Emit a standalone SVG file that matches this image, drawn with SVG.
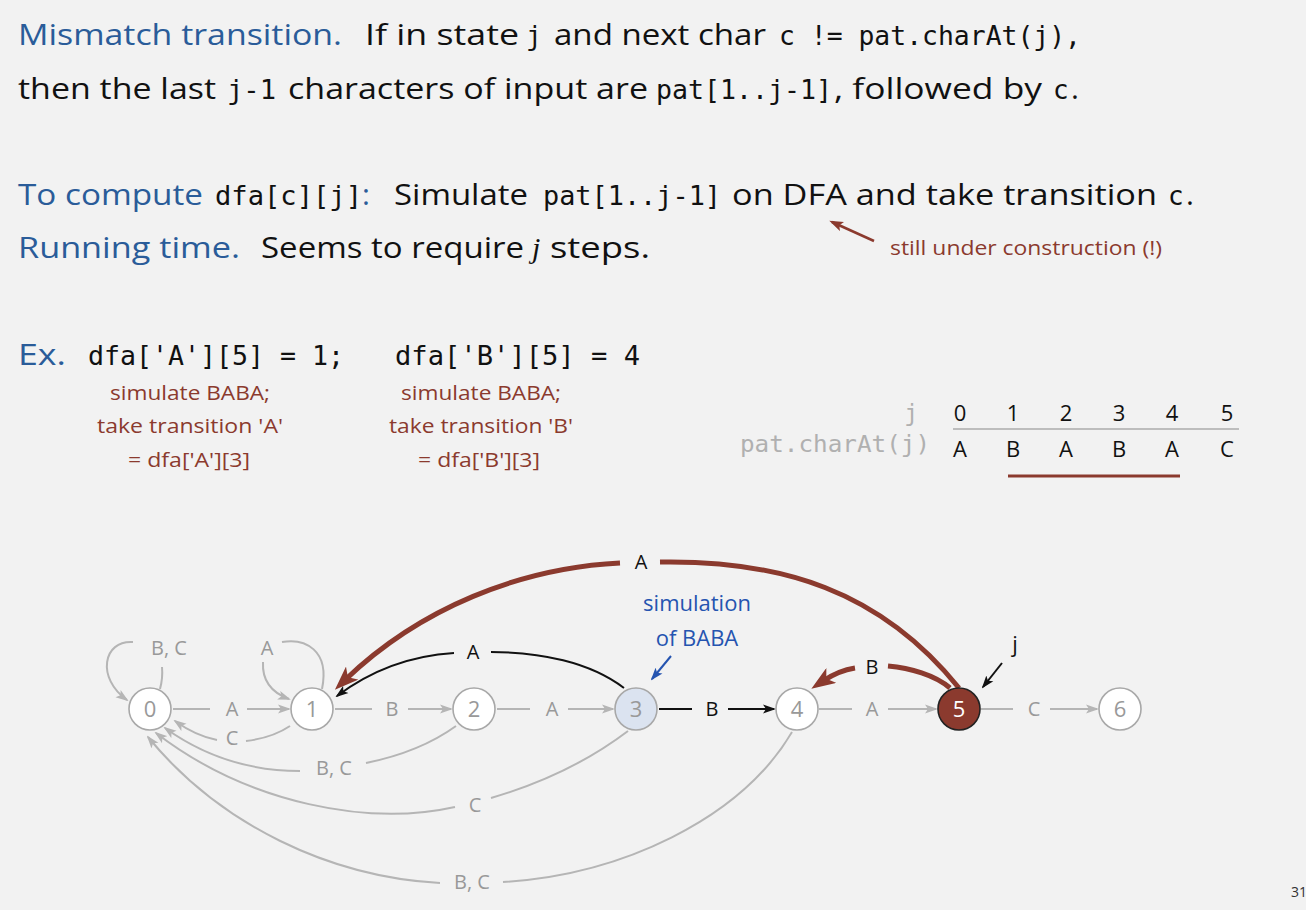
<svg xmlns="http://www.w3.org/2000/svg" width="1306" height="910" viewBox="0 0 1306 910">
<style>
.s{font-family:"Open Sans","Noto Sans","Liberation Sans",sans-serif}
.m{font-family:"DejaVu Sans Mono","Liberation Mono",monospace}
.big{font-size:30px;fill:#111}
.blue{fill:#2a5c99}
.mono27{font-size:26px;fill:#111}
.ann{font-size:20px;fill:#8b3a2e}
.tbl{font-size:22px;fill:#111}
.gl{font-size:20px;fill:#999}
.bl{font-size:20px;fill:#111}
.nl{font-size:22px;fill:#999}
.ge{fill:none;stroke:#b5b5b5;stroke-width:2}
.ke{fill:none;stroke:#111;stroke-width:2}
.be{fill:none;stroke:#8b3a2e;stroke-width:5}
.node{fill:#fff;stroke:#a8a8a8;stroke-width:1.6}
</style>
<defs>
<marker id="ag" markerUnits="userSpaceOnUse" markerWidth="13" markerHeight="10" refX="11" refY="5" orient="auto"><path d="M0,0.5 L13,5 L0,9.5 L3,5 z" fill="#b5b5b5"/></marker>
<marker id="ak" markerUnits="userSpaceOnUse" markerWidth="13" markerHeight="10" refX="11" refY="5" orient="auto"><path d="M0,0.5 L13,5 L0,9.5 L3,5 z" fill="#111"/></marker>
<marker id="ab" markerUnits="userSpaceOnUse" markerWidth="13" markerHeight="10" refX="11" refY="5" orient="auto"><path d="M0,0.5 L13,5 L0,9.5 L3,5 z" fill="#2554b0"/></marker>
<marker id="ar" markerUnits="userSpaceOnUse" markerWidth="14" markerHeight="11" refX="11" refY="5.5" orient="auto"><path d="M0,0.5 L14,5.5 L0,10.5 L3,5.5 z" fill="#8b3a2e"/></marker>
<marker id="aR" markerUnits="userSpaceOnUse" markerWidth="24" markerHeight="18" refX="10" refY="9" orient="auto"><path d="M0,0 L24,9 L0,18 L6,9 z" fill="#8b3a2e"/></marker>
</defs>
<rect width="1306" height="910" fill="#f2f2f2"/>

<g id="text-top">
<text class="s big blue" x="18" y="45" textLength="324" lengthAdjust="spacingAndGlyphs">Mismatch transition.</text>
<text class="s big" x="365" y="45" textLength="154" lengthAdjust="spacingAndGlyphs">If in state</text>
<text class="m mono27" x="526" y="45">j</text>
<text class="s big" x="554" y="45" textLength="212" lengthAdjust="spacingAndGlyphs">and next char</text>
<text class="m mono27" x="779" y="45" textLength="302" lengthAdjust="spacingAndGlyphs">c != pat.charAt(j),</text>

<text class="s big" x="18" y="99" textLength="198" lengthAdjust="spacingAndGlyphs">then the last</text>
<text class="m mono27" x="227" y="99" textLength="49" lengthAdjust="spacingAndGlyphs">j-1</text>
<text class="s big" x="288" y="99" textLength="360" lengthAdjust="spacingAndGlyphs">characters of input are</text>
<text class="m mono27" x="656" y="99" textLength="176" lengthAdjust="spacingAndGlyphs">pat[1..j-1]</text>
<text class="s big" x="834" y="99" textLength="208" lengthAdjust="spacingAndGlyphs">, followed by</text>
<text class="m mono27" x="1053" y="99">c</text>
<text class="s big" x="1071" y="99">.</text>

<text class="s big blue" x="18" y="205" textLength="185" lengthAdjust="spacingAndGlyphs">To compute</text>
<text class="m mono27 blue" x="215" y="205" textLength="147" lengthAdjust="spacingAndGlyphs">dfa[c][j]</text>
<text class="s big blue" x="362" y="205">:</text>
<text class="s big" x="394" y="205" textLength="134" lengthAdjust="spacingAndGlyphs">Simulate</text>
<text class="m mono27" x="543" y="205" textLength="178" lengthAdjust="spacingAndGlyphs">pat[1..j-1]</text>
<text class="s big" x="732" y="205" textLength="425" lengthAdjust="spacingAndGlyphs">on DFA and take transition</text>
<text class="m mono27" x="1168" y="205">c</text>
<text class="s big" x="1186" y="205">.</text>

<text class="s big blue" x="18" y="258" textLength="222" lengthAdjust="spacingAndGlyphs">Running time.</text>
<text class="s big" x="261" y="258" textLength="263" lengthAdjust="spacingAndGlyphs">Seems to require</text>
<text x="532" y="258" font-family="Liberation Serif, serif" font-style="italic" font-size="30" fill="#111">j</text>
<text class="s big" x="550" y="258" textLength="100" lengthAdjust="spacingAndGlyphs">steps.</text>
</g>

<g id="annotation-dfa">
<text class="s ann" x="890" y="255" textLength="272" lengthAdjust="spacingAndGlyphs">still under construction (!)</text>
<line x1="874" y1="241" x2="832" y2="222" stroke="#8b3a2e" stroke-width="2.5" marker-end="url(#ar)"/>
</g>

<g id="example">
<text class="s big blue" x="18" y="365" textLength="48" lengthAdjust="spacingAndGlyphs">Ex.</text>
<text class="m mono27" x="88" y="365" textLength="256" lengthAdjust="spacingAndGlyphs">dfa['A'][5] = 1;</text>
<text class="m mono27" x="395" y="365" textLength="245" lengthAdjust="spacingAndGlyphs">dfa['B'][5] = 4</text>
<g text-anchor="middle">
<text class="s ann" x="190" y="400" textLength="160" lengthAdjust="spacingAndGlyphs">simulate BABA;</text>
<text class="s ann" x="190" y="433" textLength="186" lengthAdjust="spacingAndGlyphs">take transition 'A'</text>
<text class="s ann" x="189" y="467" textLength="122" lengthAdjust="spacingAndGlyphs">= dfa['A'][3]</text>
<text class="s ann" x="481" y="400" textLength="160" lengthAdjust="spacingAndGlyphs">simulate BABA;</text>
<text class="s ann" x="481" y="433" textLength="184" lengthAdjust="spacingAndGlyphs">take transition 'B'</text>
<text class="s ann" x="479" y="467" textLength="122" lengthAdjust="spacingAndGlyphs">= dfa['B'][3]</text>
</g>
</g>

<g id="table">
<text class="m" x="918" y="421" font-size="23" fill="#b0b0b0" text-anchor="end">j</text>
<text class="m" x="930" y="452" font-size="23" fill="#b0b0b0" text-anchor="end" textLength="190" lengthAdjust="spacingAndGlyphs">pat.charAt(j)</text>
<g class="s tbl" text-anchor="middle">
<text x="960" y="421">0</text><text x="1013" y="421">1</text><text x="1066" y="421">2</text><text x="1119" y="421">3</text><text x="1172" y="421">4</text><text x="1227" y="421">5</text>
<text x="960" y="457">A</text><text x="1013" y="457">B</text><text x="1066" y="457">A</text><text x="1119" y="457">B</text><text x="1172" y="457">A</text><text x="1227" y="457">C</text>
</g>
<line x1="953" y1="429" x2="1239" y2="429" stroke="#bdbdbd" stroke-width="2"/>
<line x1="1008" y1="476" x2="1180" y2="476" stroke="#8b3a2e" stroke-width="3"/>
</g>

<g id="connectors">
<path class="ge" d="M173,709 H210"/><path class="ge" d="M247,709 H289" marker-end="url(#ag)"/>
<path class="ge" d="M335,709 H372"/><path class="ge" d="M408,709 H451" marker-end="url(#ag)"/>
<path class="ge" d="M497,709 H530"/><path class="ge" d="M568,709 H613" marker-end="url(#ag)"/>
<path class="ke" d="M659,709 H692"/><path class="ke" d="M728,709 H774" marker-end="url(#ak)"/>
<path class="ge" d="M819,709 H852"/><path class="ge" d="M888,709 H936" marker-end="url(#ag)"/>
<path class="ge" d="M981,709 H1013"/><path class="ge" d="M1050,709 H1097" marker-end="url(#ag)"/>
<path class="ge" d="M160,689 Q163,678 162,667"/>
<path class="ge" d="M133,642 C103,640 96,678 127,700" marker-end="url(#ag)"/>
<path class="ge" d="M263,662 C262,680 270,692 289,699" marker-end="url(#ag)"/>
<path class="ge" d="M282,642 C305,638 330,650 322,689"/>
<path class="ge" d="M290,726 Q272,738 246,741"/>
<path class="ge" d="M217,740 Q196,736 175,721" marker-end="url(#ag)"/>
<path class="ge" d="M456,726 Q420,752 366,763"/>
<path class="ge" d="M300,771 Q225,771 165,728" marker-end="url(#ag)"/>
<path class="ge" d="M628,731 Q570,775 491,798"/>
<path class="ge" d="M455,807 C370,826 250,805 156,733" marker-end="url(#ag)"/>
<path class="ge" d="M792,732 C740,820 620,875 503,882"/>
<path class="ge" d="M440,883 C330,877 220,825 148,737" marker-end="url(#ag)"/>
<path class="ke" d="M624,688 C590,662 540,652 491,652"/>
<path class="ke" d="M454,653 C405,656 365,675 337,696" marker-end="url(#ak)"/>
<path class="be" d="M959,688 C880,590 780,560 660,562"/>
<path class="be" d="M620,563 C520,568 420,608 345,680" marker-end="url(#aR)"/>
<path class="be" d="M950,688 C935,675 910,668 888,666"/>
<path class="be" d="M855,668 C842,670 832,675 823,681" marker-end="url(#aR)"/>
<line x1="1002" y1="663" x2="983" y2="687" stroke="#111" stroke-width="2" marker-end="url(#ak)"/>
<line x1="671" y1="656" x2="652" y2="679" stroke="#2554b0" stroke-width="2" marker-end="url(#ab)"/>
</g>

<g id="edge-labels" text-anchor="middle">
<text class="s gl" x="232" y="716">A</text>
<text class="s gl" x="392" y="716">B</text>
<text class="s gl" x="552" y="716">A</text>
<text class="s bl" x="712" y="716">B</text>
<text class="s gl" x="872" y="716">A</text>
<text class="s gl" x="1034" y="716">C</text>
<text class="s gl" x="169" y="655">B, C</text>
<text class="s gl" x="267" y="655">A</text>
<text class="s gl" x="232" y="745">C</text>
<text class="s gl" x="334" y="775">B, C</text>
<text class="s gl" x="475" y="812">C</text>
<text class="s gl" x="472" y="889">B, C</text>
<text class="s bl" x="473" y="659">A</text>
<text class="s bl" x="641" y="569">A</text>
<text class="s bl" x="872" y="674">B</text>
<text class="s" x="1015" y="652" font-size="22" fill="#111">j</text>
<text class="s" x="697" y="611" font-size="22" fill="#2554b0">simulation</text>
<text class="s" x="697" y="646" font-size="22" fill="#2554b0">of BABA</text>
</g>

<g id="node0"><circle class="node" cx="150" cy="709" r="21"/><text class="s nl" x="150" y="717" text-anchor="middle">0</text></g>
<g id="node1"><circle class="node" cx="312" cy="709" r="21"/><text class="s nl" x="312" y="717" text-anchor="middle">1</text></g>
<g id="node2"><circle class="node" cx="474" cy="709" r="21"/><text class="s nl" x="474" y="717" text-anchor="middle">2</text></g>
<g id="node3"><circle class="node" cx="636" cy="709" r="21" style="fill:#dbe3f0"/><text class="s nl" x="636" y="717" text-anchor="middle">3</text></g>
<g id="node4"><circle class="node" cx="797" cy="709" r="21"/><text class="s nl" x="797" y="717" text-anchor="middle">4</text></g>
<g id="node5"><circle class="node" cx="959" cy="709" r="21" style="fill:#8b3a2e;stroke:#222"/><text class="s nl" x="959" y="717" text-anchor="middle" style="fill:#fff">5</text></g>
<g id="node6"><circle class="node" cx="1120" cy="709" r="21"/><text class="s nl" x="1120" y="717" text-anchor="middle">6</text></g>

<text class="s" x="1291" y="897" font-size="14" fill="#333">31</text>
</svg>
